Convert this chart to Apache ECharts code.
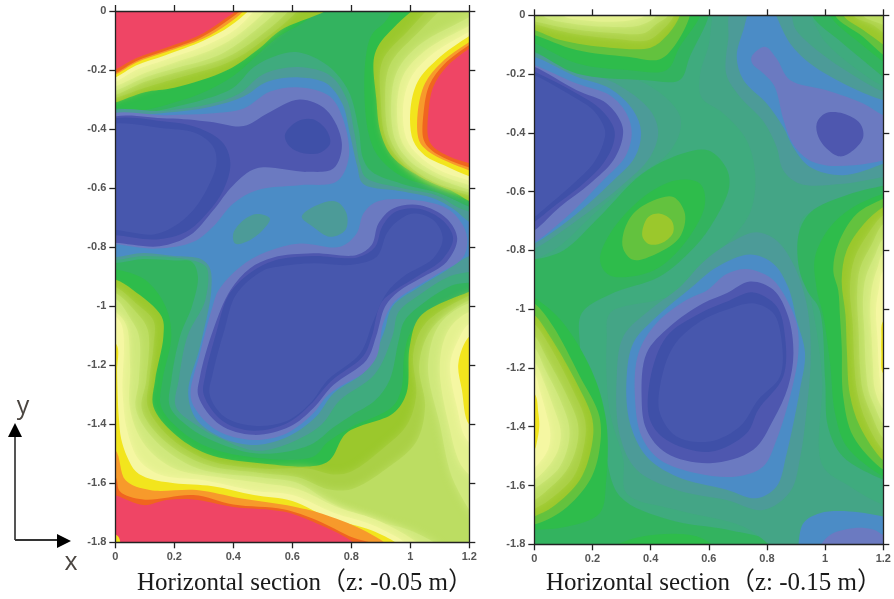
<!DOCTYPE html>
<html><head><meta charset="utf-8">
<style>html,body{margin:0;padding:0;background:#fff}#c{width:894px;height:599px;filter:blur(0.55px)}</style>
<script src="https://cdn.jsdelivr.net/npm/echarts@6/dist/echarts.min.js"></script>
</head><body><div id="c"></div>
<script>
// band colours, low (0) to high (19); 20 is a half step between 5 and 6
const levelColors = ['#4757ad','#3f50a8','#4e57af','#6b7ac1','#4b8cc6','#4c9b98','#3fab7e','#33b35f','#2ebc4b','#63c23e',
  '#9bc82c','#aad046','#bcdd62','#cfe87c','#e4f190','#f5f7a2','#f2e51d','#f79a2b','#f0651f','#ef4565','#44a586'];
// every region: [band, [x, depth, x, depth, ...]], depth = -y in m
const leftLow = [
 [7,[-.05,.345,.1,.335,.2,.31,.3,.275,.4,.22,.47,.16,.55,.09,.65,.03,.72,-.05,.95,-.05,.92,.03,.87,.08,.85,.15,.845,.3,.86,.42,.89,.49,.97,.56,1.09,.6,1.17,.635,1.25,.68,1.25,.96,1.14,.975,1.06,1.02,1,1.09,.98,1.16,.97,1.28,.94,1.34,.8,1.41,.72,1.46,.67,1.51,.49,1.515,.32,1.48,.22,1.42,.155,1.34,.16,1.25,.19,1.1,.17,1,.1,.91,0,.875,-.05,.87]],
 [6,[-.05,.352,.1,.345,.2,.325,.3,.3,.4,.26,.47,.19,.55,.15,.62,.14,.72,.185,.79,.27,.825,.4,.84,.5,.87,.545,.97,.585,1.09,.615,1.17,.65,1.25,.7,1.25,.9,1.14,.93,1.05,.985,.98,1.05,.96,1.12,.93,1.25,.88,1.32,.8,1.37,.74,1.41,.66,1.47,.49,1.5,.34,1.46,.25,1.41,.185,1.34,.19,1.25,.22,1.1,.26,1,.28,.9,.26,.85,.2,.845,.1,.84,-.05,.84]],
 [5,[-.05,.357,.17,.338,.32,.315,.42,.28,.5,.215,.62,.19,.73,.22,.785,.3,.81,.41,.83,.52,.85,.565,.97,.6,1.09,.625,1.16,.665,1.25,.71,1.25,.86,1.13,.9,1.04,.955,.96,1.02,.94,1.1,.88,1.23,.76,1.32,.7,1.4,.6,1.46,.48,1.49,.36,1.45,.27,1.4,.205,1.34,.215,1.25,.245,1.1,.305,.98,.31,.87,.28,.85,.2,.835,.1,.83,-.05,.83]],
 [4,[-.05,.36,0,.36,.17,.345,.32,.325,.435,.29,.515,.24,.625,.225,.715,.245,.77,.315,.795,.415,.82,.525,.84,.585,.965,.61,1.08,.635,1.145,.67,1.2,.715,1.25,.74,1.25,.82,1.2,.83,1.12,.88,1.03,.935,.94,1,.91,1.09,.85,1.216,.74,1.295,.68,1.375,.59,1.44,.48,1.47,.366,1.448,.276,1.385,.247,1.295,.287,1.137,.325,.95,.32,.87,.29,.84,.2,.83,.1,.82,-.05,.82]],
 [3,[-.05,.367,.175,.353,.32,.347,.435,.33,.525,.273,.625,.259,.728,.29,.78,.392,.79,.505,.75,.578,.625,.59,.48,.607,.4,.652,.332,.73,.265,.782,.14,.805,0,.79,-.05,.79]],
 [3,[.35,.946,.423,.867,.513,.816,.626,.788,.762,.799,.818,.754,.841,.686,.886,.646,1.021,.641,1.134,.675,1.19,.754,1.18,.833,1.078,.9,1,.946,.942,.99,.908,1.058,.886,1.171,.84,1.227,.762,1.272,.716,1.306,.671,1.363,.58,1.431,.468,1.453,.343,1.42,.27,1.346,.255,1.295,.287,1.16,.33,1]],
 [2,[-.05,.38,.175,.364,.32,.375,.435,.39,.515,.347,.625,.3,.716,.336,.768,.448,.74,.533,.648,.545,.48,.533,.4,.59,.332,.675,.253,.76,.15,.797,0,.785,-.05,.785]],
 [2,[.39,.946,.456,.872,.536,.835,.671,.821,.818,.827,.869,.793,.892,.72,.942,.669,1.033,.658,1.123,.703,1.159,.771,1.123,.85,1.033,.906,.96,.95,.915,1,.884,1.103,.852,1.182,.739,1.267,.671,1.346,.592,1.408,.468,1.436,.355,1.402,.282,1.306,.287,1.239,.332,1.08]],
 [1,[-.05,.385,.175,.375,.287,.398,.366,.448,.39,.516,.366,.607,.31,.686,.24,.748,.14,.774,0,.76,-.05,.76]],
 [1,[.4,.94,.46,.885,.54,.845,.67,.83,.82,.835,.88,.8,.905,.73,.95,.68,1.03,.67,1.11,.71,1.145,.77,1.11,.84,1.03,.895,.95,.945,.9,.99,.87,1.1,.84,1.17,.73,1.255,.66,1.335,.585,1.395,.468,1.422,.365,1.39,.3,1.3,.305,1.235,.345,1.08,.375,.98]],
 [1,[.575,.42,.615,.375,.67,.367,.716,.404,.728,.449,.694,.48,.637,.482,.592,.46]],
 [0,[-.05,.4,.17,.398,.276,.415,.332,.46,.343,.516,.315,.595,.264,.675,.197,.731,.13,.757,0,.742,-.05,.742]],
 [0,[.41,.96,.5,.88,.56,.865,.67,.855,.8,.86,.886,.833,.92,.754,.954,.714,1.01,.686,1.078,.708,1.11,.77,1.078,.838,.976,.9,.92,.955,.875,1.05,.83,1.16,.72,1.25,.66,1.33,.58,1.39,.468,1.405,.37,1.375,.32,1.3,.33,1.23,.37,1.08]],
 [5,[.4,.754,.435,.708,.48,.688,.524,.703,.5,.742,.445,.782,.406,.788]],
 [5,[.632,.697,.683,.658,.75,.646,.784,.686,.78,.742,.728,.765,.67,.731]]
];
const leftHighTopLeft = [
 [10,[-.06,.325,0,.31,.1,.275,.2,.26,.38,.2,.49,.125,.56,.065,.74,-.02,.74,-.06,-.06,-.06]],
 [11,[-.06,.31,0,.295,.1,.26,.2,.23,.38,.175,.48,.115,.63,-.02,.63,-.06,-.06,-.06]],
 [12,[-.06,.3,0,.285,.1,.24,.2,.21,.37,.16,.47,.1,.6,-.02,.6,-.06,-.06,-.06]],
 [13,[-.06,.285,0,.27,.1,.225,.2,.195,.35,.15,.45,.085,.56,-.02,.56,-.06,-.06,-.06]],
 [14,[-.06,.27,0,.255,.1,.21,.2,.175,.33,.13,.43,.07,.52,-.02,.52,-.06,-.06,-.06]],
 [15,[-.06,.255,0,.24,.07,.2,.17,.165,.31,.115,.41,.06,.48,-.02,.48,-.06,-.06,-.06]],
 [16,[-.06,.24,0,.225,.07,.185,.17,.15,.3,.1,.39,.05,.465,-.02,.465,-.06,-.06,-.06]],
 [17,[-.06,.23,0,.215,.07,.175,.17,.14,.295,.095,.38,.045,.45,-.02,.45,-.06,-.06,-.06]],
 [18,[-.06,.225,0,.21,.07,.17,.17,.135,.29,.09,.37,.04,.44,-.02,.44,-.06,-.06,-.06]],
 [19,[-.06,.22,0,.198,.07,.16,.17,.125,.28,.085,.36,.035,.425,-.02,.425,-.06,-.06,-.06]]
];
const leftHighTopRight = [
 [10,[1.09,-.05,.94,.06,.88,.145,.885,.3,.9,.415,.94,.495,1.03,.56,1.13,.605,1.25,.65,1.26,-.05]],
 [11,[1.12,-.05,.99,.07,.905,.17,.9,.305,.915,.425,.96,.5,1.05,.57,1.2,.625,1.26,.64,1.26,-.05]],
 [12,[1.17,-.05,1.02,.08,.93,.185,.915,.31,.93,.43,.98,.51,1.08,.58,1.2,.615,1.26,.63,1.26,-.05]],
 [13,[1.26,-.02,1.2,.02,1.03,.115,.955,.205,.935,.32,.95,.44,1,.51,1.09,.565,1.2,.605,1.26,.62]],
 [14,[1.26,.02,1.2,.05,1.05,.135,.975,.22,.955,.33,.97,.44,1.02,.505,1.1,.555,1.2,.59,1.26,.61]],
 [15,[1.26,.04,1.2,.07,1.07,.15,1,.23,.975,.335,.99,.44,1.04,.5,1.11,.545,1.2,.575,1.26,.6]],
 [16,[1.26,.05,1.2,.085,1.09,.165,1.025,.24,1,.34,1.01,.44,1.05,.49,1.12,.525,1.2,.56,1.26,.58]],
 [17,[1.26,.07,1.2,.105,1.105,.175,1.05,.245,1.025,.345,1.03,.44,1.06,.475,1.125,.51,1.2,.54,1.26,.56]],
 [18,[1.26,.08,1.2,.115,1.115,.18,1.065,.25,1.045,.345,1.045,.435,1.07,.47,1.13,.505,1.2,.53,1.26,.55]],
 [19,[1.26,.09,1.2,.127,1.123,.189,1.078,.257,1.061,.347,1.061,.43,1.078,.46,1.134,.494,1.2,.516,1.26,.535]]
];
const leftHighBottom = [
 [10,[-.06,.905,0,.91,.06,.945,.157,1.035,.163,1.103,.135,1.25,.129,1.34,.197,1.43,.31,1.5,.49,1.532,.716,1.53,.784,1.43,.942,1.363,.987,1.295,.998,1.137,1.033,1.035,1.2,.951,1.26,.93,1.26,1.86,-.06,1.86]],
 [11,[-.06,.93,0,.935,.07,.99,.13,1.05,.13,1.13,.115,1.25,.11,1.34,.18,1.44,.31,1.52,.49,1.55,.65,1.55,.74,1.57,.8,1.56,.91,1.48,.99,1.4,1.02,1.3,1.01,1.16,1.05,1.06,1.2,.965,1.26,.95,1.26,1.86,-.06,1.86]],
 [12,[-.06,.95,0,.955,.07,1.02,.11,1.08,.105,1.25,.09,1.35,.16,1.45,.3,1.535,.49,1.565,.62,1.58,.72,1.62,.8,1.62,.92,1.55,1.02,1.46,1.05,1.34,1.03,1.2,1.07,1.08,1.2,.98,1.26,.97,1.26,1.86,-.06,1.86]],
 [13,[-.06,.97,0,.975,.05,1.04,.08,1.1,.08,1.25,.07,1.35,.14,1.46,.28,1.55,.49,1.58,.62,1.6,.72,1.66,.85,1.72,1,1.76,1.1,1.82,1.1,1.86,-.06,1.86]],
 [13,[1.26,.99,1.2,.99,1.1,1.06,1.06,1.2,1.1,1.4,1.15,1.6,1.26,1.75]],
 [14,[1.26,1.02,1.2,1.02,1.13,1.08,1.1,1.2,1.13,1.4,1.18,1.55,1.26,1.6]],
 [15,[1.26,1.06,1.2,1.06,1.16,1.12,1.135,1.2,1.16,1.35,1.19,1.45,1.26,1.5]],
 [16,[1.26,1.08,1.2,1.103,1.163,1.193,1.175,1.284,1.2,1.402,1.26,1.43]],
 [14,[-.06,1,.03,1.05,.05,1.2,.05,1.35,.1,1.47,.2,1.55,.35,1.58,.5,1.6,.62,1.62,.75,1.68,.9,1.73,1.04,1.82,1.04,1.86,-.06,1.86]],
 [15,[-.06,1.02,.015,1.05,.025,1.3,.04,1.42,.08,1.52,.15,1.57,.3,1.59,.47,1.625,.6,1.64,.74,1.7,.88,1.745,1,1.82,1,1.86,-.06,1.86]],
 [16,[-.06,1.1,.004,1.13,.006,1.22,.008,1.3,.012,1.38,.02,1.45,.04,1.51,.07,1.56,.117,1.585,.2,1.6,.33,1.61,.47,1.64,.6,1.66,.73,1.72,.87,1.76,.97,1.82,.97,1.86,-.06,1.86]],
 [17,[-.06,1.46,0,1.487,.035,1.59,.117,1.623,.276,1.623,.423,1.651,.603,1.679,.716,1.708,.852,1.764,.93,1.82,.93,1.86,-.06,1.86]],
 [18,[-.06,1.55,0,1.578,.016,1.628,.095,1.655,.265,1.64,.4,1.672,.57,1.688,.683,1.725,.807,1.785,.91,1.82,.91,1.86,-.06,1.86]],
 [19,[-.06,1.62,0,1.64,.095,1.674,.174,1.657,.265,1.655,.4,1.68,.57,1.696,.683,1.736,.795,1.792,.82,1.82,.82,1.86,-.06,1.86]],
 [16,[-.02,1.77,.01,1.78,.015,1.82,-.02,1.82]]
];
const rightLow = [
 [7,[-.06,.83,0,.83,.1,.8,.22,.69,.37,.54,.51,.47,.6,.46,.66,.52,.67,.585,.605,.72,.53,.81,.43,.89,.26,.95,.163,1.014,.157,1.127,.18,1.3,.237,1.467,.295,1.637,.467,1.717,.661,1.75,.833,1.8,.85,1.86,-.06,1.86]],
 [8,[.226,.834,.26,.743,.375,.618,.489,.561,.57,.573,.587,.641,.524,.766,.41,.868,.26,.885]],
 [8,[.26,1.82,.375,1.773,.558,1.773,.627,1.82,.627,1.86,.26,1.86]],
 [9,[.306,.743,.34,.675,.409,.63,.478,.618,.518,.675,.5,.755,.42,.811,.34,.832,.306,.795]],
 [10,[.371,.737,.392,.686,.432,.675,.472,.698,.478,.737,.444,.772,.398,.78,.375,.76]],
 [20,[.62,-.02,.61,.02,.6,.1,.57,.2,.575,.28,.65,.334,.73,.425,.76,.55,.74,.675,.65,.79,.56,.88,.52,.94,.42,.97,.26,1.014,.249,1.104,.249,1.24,.26,1.354,.306,1.512,.317,1.626,.489,1.683,.72,1.74,.833,1.82,.9,1.86,1.26,1.86,1.26,1.67,1.2,1.665,1.08,1.6,.99,1.53,.99,1.24,.97,1.07,.93,.86,.91,.74,.925,.686,1.12,.618,1.2,.59,1.26,.58,1.26,.25,1.2,.24,1.09,.17,1,.09,.92,-.02]],
 [5,[.68,-.02,.667,.08,.66,.2,.707,.277,.787,.36,.833,.448,.856,.527,.913,.573,1.063,.573,1.2,.55,1.26,.54,1.26,.27,1.2,.26,1.09,.2,.98,.125,.9,.05,.87,-.02]],
 [5,[.764,.738,.833,.766,.89,.845,.925,.936,.945,1.036,.95,1.184,.935,1.354,.915,1.5,.88,1.62,.787,1.683,.661,1.649,.489,1.615,.352,1.546,.295,1.433,.283,1.24,.306,1.093,.398,1.002,.5,.925,.58,.84,.68,.77]],
 [4,[.541,.925,.627,.857,.742,.814,.822,.845,.873,.925,.902,1.036,.931,1.15,.913,1.275,.868,1.49,.833,1.603,.764,1.643,.661,1.614,.489,1.569,.386,1.501,.329,1.388,.317,1.24,.34,1.116,.409,1.036]],
 [3,[.593,.936,.661,.88,.73,.863,.81,.891,.85,.936,.902,1.048,.908,1.15,.885,1.275,.833,1.444,.787,1.535,.696,1.569,.558,1.558,.432,1.512,.369,1.433,.346,1.297,.358,1.15,.42,1.048,.524,.968]],
 [2,[.661,.946,.742,.906,.822,.934,.873,1.025,.891,1.15,.873,1.263,.822,1.376,.753,1.478,.604,1.524,.455,1.49,.386,1.41,.369,1.297,.386,1.15,.466,1.059,.581,.98]],
 [1,[.661,.975,.753,.943,.833,.99,.862,1.093,.856,1.229,.77,1.342,.73,1.422,.604,1.485,.455,1.445,.398,1.377,.398,1.24,.455,1.093,.57,1.014]],
 [0,[.661,1.002,.753,.98,.822,1.014,.85,1.104,.845,1.229,.77,1.308,.707,1.399,.604,1.45,.489,1.433,.432,1.354,.432,1.263,.478,1.127,.57,1.042]],
 [4,[.906,1.82,.925,1.728,.982,1.694,1.085,1.688,1.2,1.705,1.26,1.72,1.26,1.86,.9,1.86]],
 [3,[.976,1.82,1.017,1.768,1.097,1.745,1.165,1.75,1.2,1.768,1.26,1.79,1.26,1.86,.976,1.86]],
 [20,[-.06,.122,0,.122,.15,.17,.32,.205,.44,.27,.5,.34,.5,.4,.46,.47,.34,.56,.2,.68,.08,.79,0,.83,-.06,.84]],
 [5,[-.06,.125,0,.13,.146,.186,.28,.232,.398,.323,.426,.397,.398,.482,.295,.584,.146,.698,0,.794,-.06,.81]],
 [4,[-.06,.13,0,.141,.146,.209,.26,.249,.34,.323,.367,.397,.346,.482,.26,.573,.146,.675,0,.777,-.06,.8]],
 [3,[-.06,.15,0,.169,.146,.232,.26,.272,.317,.334,.335,.402,.312,.482,.237,.561,.123,.675,0,.772,-.06,.79]],
 [2,[-.06,.16,0,.175,.146,.255,.249,.3,.3,.368,.304,.414,.272,.493,.191,.573,.088,.652,0,.732,-.06,.76]],
 [1,[-.06,.17,0,.192,.146,.266,.226,.318,.274,.385,.272,.436,.237,.504,.168,.573,.065,.652,0,.703,-.06,.74]],
 [0,[-.06,.18,0,.203,.134,.277,.203,.323,.243,.391,.237,.436,.203,.504,.134,.573,.042,.652,0,.686,-.06,.72]],
 [4,[.747,-.02,.719,.05,.696,.141,.719,.22,.799,.3,.856,.38,.89,.448,.948,.516,1.062,.544,1.2,.505,1.26,.48,1.26,.3,1.2,.289,1.085,.243,.948,.164,.879,.095,.833,.005,.82,-.02]],
 [3,[.747,.141,.793,.107,.833,.147,.879,.22,1.005,.255,1.131,.3,1.2,.34,1.26,.36,1.26,.47,1.2,.493,1.1,.51,1,.51,.94,.49,.89,.44,.858,.36,.825,.24,.79,.2,.75,.165]],
 [2,[.971,.368,1,.334,1.062,.334,1.12,.368,1.131,.414,1.097,.459,1.051,.48,1.005,.453,.977,.414]]
];
const rightHighTop = [
 [7,[-.06,.11,0,.124,.145,.198,.375,.22,.5,.22,.535,.14,.6,0,.6,-.06,-.06,-.06]],
 [8,[-.06,.08,0,.095,.145,.163,.32,.186,.455,.186,.5,.107,.57,0,.57,-.06,-.06,-.06]],
 [9,[-.06,.05,0,.067,.145,.118,.32,.141,.43,.15,.48,.107,.535,0,.535,-.06,-.06,-.06]],
 [10,[-.06,.035,0,.05,.09,.084,.26,.11,.4,.11,.455,.07,.5,0,.5,-.06,-.06,-.06]],
 [11,[-.06,.015,0,.03,.12,.06,.28,.08,.39,.085,.44,.05,.48,0,.48,-.06,-.06,-.06]],
 [12,[-.06,.005,0,.02,.12,.045,.27,.06,.38,.06,.42,.03,.46,0,.46,-.06,-.06,-.06]],
 [13,[.03,-.06,.03,0,.14,.03,.27,.04,.36,.035,.42,0,.42,-.06]],
 [14,[.1,-.06,.1,0,.18,.018,.27,.022,.34,.015,.38,0,.38,-.06]],
 [7,[.955,-.06,.955,0,1.06,.095,1.2,.21,1.26,.26,1.26,-.06]],
 [8,[1.017,-.06,1.017,0,1.12,.095,1.2,.158,1.26,.2,1.26,-.06]],
 [9,[1.034,-.06,1.034,0,1.13,.073,1.2,.135,1.26,.18,1.26,-.06]],
 [10,[1.063,-.06,1.063,0,1.131,.05,1.2,.1,1.26,.15,1.26,-.06]],
 [11,[1.097,-.06,1.097,0,1.165,.033,1.2,.06,1.26,.1,1.26,-.06]],
 [12,[1.13,-.06,1.13,0,1.2,.033,1.26,.07,1.26,-.06]]
];
const rightHighLeft = [
 [8,[-.06,.93,0,.96,.09,1.036,.196,1.206,.247,1.379,.247,1.585,.225,1.694,.11,1.74,0,1.75,-.06,1.75]],
 [9,[-.06,.95,0,.98,.065,1.059,.157,1.229,.224,1.365,.224,1.478,.192,1.58,.1,1.683,0,1.733,-.06,1.74]],
 [10,[-.06,.99,0,1.02,.054,1.093,.146,1.252,.2,1.376,.197,1.467,.157,1.58,.065,1.671,0,1.705,-.06,1.73]],
 [11,[-.06,1.02,0,1.05,.05,1.12,.13,1.27,.175,1.38,.17,1.47,.135,1.57,.05,1.65,0,1.68,-.06,1.71]],
 [12,[-.06,1.06,0,1.09,.04,1.16,.11,1.29,.15,1.39,.145,1.47,.11,1.55,.04,1.62,0,1.65,-.06,1.68]],
 [13,[-.06,1.1,0,1.13,.035,1.2,.09,1.31,.12,1.4,.115,1.47,.085,1.54,.03,1.59,0,1.61,-.06,1.64]],
 [14,[-.06,1.15,0,1.18,.03,1.24,.065,1.33,.09,1.41,.085,1.47,.06,1.52,.025,1.56,0,1.58,-.06,1.6]],
 [15,[-.06,1.19,0,1.22,.02,1.28,.04,1.35,.055,1.42,.05,1.47,.035,1.5,.01,1.53,0,1.54,-.06,1.56]],
 [16,[-.06,1.26,0,1.286,.014,1.354,.017,1.4,.008,1.456,0,1.478,-.06,1.5]]
];
const rightHighRight = [
 [7,[1.26,.57,1.2,.58,1.08,.61,.95,.67,.91,.74,.91,.86,.94,.94,.98,1,1,1.24,1.01,1.4,1.06,1.5,1.2,1.58,1.26,1.6]],
 [8,[1.26,.59,1.2,.607,1.097,.652,1.017,.72,.965,.823,.97,.925,.994,1.025,1.017,1.184,1.034,1.354,1.074,1.467,1.2,1.569,1.26,1.59]],
 [9,[1.26,.6,1.2,.624,1.108,.676,1.045,.777,1.028,.868,1.045,.936,1.051,1.025,1.057,1.127,1.062,1.297,1.097,1.433,1.2,1.546,1.26,1.57]],
 [10,[1.26,.63,1.2,.652,1.133,.71,1.074,.8,1.057,.9,1.07,1.02,1.075,1.15,1.085,1.29,1.12,1.4,1.2,1.515,1.26,1.55]],
 [11,[1.26,.66,1.2,.68,1.15,.74,1.1,.83,1.085,.93,1.095,1.05,1.1,1.18,1.11,1.28,1.14,1.38,1.2,1.48,1.26,1.52]],
 [12,[1.26,.69,1.2,.71,1.16,.78,1.12,.86,1.11,.95,1.115,1.07,1.12,1.2,1.13,1.28,1.16,1.36,1.2,1.44,1.26,1.48]],
 [13,[1.26,.74,1.2,.76,1.17,.82,1.14,.89,1.13,.97,1.135,1.08,1.14,1.2,1.15,1.28,1.17,1.33,1.2,1.39,1.26,1.43]],
 [14,[1.26,.79,1.2,.81,1.18,.86,1.16,.93,1.155,1,1.16,1.1,1.165,1.2,1.17,1.27,1.2,1.34,1.26,1.38]],
 [15,[1.26,.85,1.2,.87,1.185,.93,1.175,1,1.18,1.1,1.185,1.2,1.19,1.25,1.2,1.29,1.26,1.32]],
 [16,[1.26,1.02,1.2,1.04,1.193,1.1,1.193,1.15,1.2,1.22,1.26,1.24]]
];
const leftRegions = [...leftLow, ...leftHighTopLeft, ...leftHighTopRight, ...leftHighBottom];
const rightRegions = [...rightLow, ...rightHighTop, ...rightHighLeft, ...rightHighRight];
const leftTitle = 'Horizontal section（z: -0.05 m）';
const rightTitle = 'Horizontal section（z: -0.15 m）';

const chart = echarts.init(document.getElementById('c'), null, {renderer:'canvas', width:894, height:599});
const lab = {color:'#555', fontSize:11, fontWeight:'bold', fontFamily:'Liberation Sans', margin:9};
const axLine = {show:true, onZero:false, lineStyle:{color:'#222', width:1.3}};
const tick = {show:true, length:6, lineStyle:{color:'#222', width:1.3}};
function xAxis(i, pos, showLabel){
  return {type:'value', gridIndex:i, position:pos, min:0, max:1.2, interval:0.2, z:10, splitLine:{show:false},
    axisLine:axLine, axisTick:tick, axisLabel:Object.assign({show:showLabel}, lab)};
}
function yAxis(i, pos, showLabel){
  return {type:'value', gridIndex:i, position:pos, min:-1.8, max:0, interval:0.2, z:10, splitLine:{show:false},
    axisLine:axLine, axisTick:tick, axisLabel:Object.assign({show:showLabel}, lab)};
}
// closed smooth outline through the read points (centripetal Catmull-Rom as Beziers)
function outline(p){
  const n = p.length, d = [];
  for (let i = 0; i < n; i++){ const a = p[i], b = p[(i+1)%n]; d.push(Math.max(1e-3, Math.sqrt(Math.hypot(b[0]-a[0], b[1]-a[1])))); }
  const m = p.map((q,i) => {
    const pr = p[(i+n-1)%n], nx = p[(i+1)%n], d1 = d[(i+n-1)%n], d2 = d[i];
    return [0,1].map(k => (q[k]-pr[k])/d1 - (nx[k]-pr[k])/(d1+d2) + (nx[k]-q[k])/d2);
  });
  let s = 'M' + p[0][0] + ' ' + p[0][1];
  for (let i = 0; i < n; i++){
    const j = (i+1)%n, h = d[i]/3;
    s += 'C' + (p[i][0]+m[i][0]*h) + ' ' + (p[i][1]+m[i][1]*h) + ' ' + (p[j][0]-m[j][0]*h) + ' ' + (p[j][1]-m[j][1]*h) + ' ' + p[j][0] + ' ' + p[j][1];
  }
  return s + 'Z';
}
function contour(regions, xi, yi){
  return {type:'custom', coordinateSystem:'cartesian2d', xAxisIndex:xi, yAxisIndex:yi, clip:true, silent:true, animation:false,
    data: regions.map(r => [r[1][0], -r[1][1]]),
    renderItem(params, api){
      const r = regions[params.dataIndex], pts = [];
      for (let k = 0; k < r[1].length; k += 2) pts.push(api.coord([r[1][k], -r[1][k+1]]));
      const c = levelColors[r[0]], soft = r[0] >= 11 && r[0] <= 15;
      return {type:'path', shape:{pathData:outline(pts)},
        style: soft ? {fill:c, shadowBlur:9, shadowColor:c} : {fill:c}};
    }};
}
chart.setOption({
  animation:false,
  backgroundColor:'#fff',
  grid:[
    {left:115.3, top:11, width:354, height:531.3, show:true, backgroundColor:levelColors[8], borderWidth:0},
    {left:534.3, top:15.3, width:349, height:529, show:true, backgroundColor:levelColors[6], borderWidth:0}
  ],
  xAxis:[xAxis(0,'bottom',true), xAxis(0,'top',false), xAxis(1,'bottom',true), xAxis(1,'top',false)],
  yAxis:[yAxis(0,'left',true), yAxis(0,'right',false), yAxis(1,'left',true), yAxis(1,'right',false)],
  series:[contour(leftRegions,0,0), contour(rightRegions,2,2)],
  title:[
    {text:leftTitle, left:132, top:566, textStyle:{fontFamily:'Liberation Serif, Noto Sans CJK SC', fontWeight:'normal', fontSize:25, color:'#1a1a1a'}},
    {text:rightTitle, left:541, top:566, textStyle:{fontFamily:'Liberation Serif, Noto Sans CJK SC', fontWeight:'normal', fontSize:25, color:'#1a1a1a'}}
  ],
  graphic:[
    {type:'line', shape:{x1:15,y1:540,x2:15,y2:435}, style:{stroke:'#555',lineWidth:2}},
    {type:'line', shape:{x1:15,y1:540,x2:60,y2:540}, style:{stroke:'#333',lineWidth:2}},
    {type:'polygon', shape:{points:[[15,423],[8,437],[22,437]]}, style:{fill:'#000'}},
    {type:'polygon', shape:{points:[[71,541],[57,534],[57,548]]}, style:{fill:'#000'}},
    {type:'text', style:{text:'y', x:23, y:407, align:'center', verticalAlign:'middle', font:'25px "Open Sans"', fill:'#4a4540'}},
    {type:'text', style:{text:'x', x:71, y:563, align:'center', verticalAlign:'middle', font:'25px "Open Sans"', fill:'#4a4540'}}
  ]
});
</script></body></html>
